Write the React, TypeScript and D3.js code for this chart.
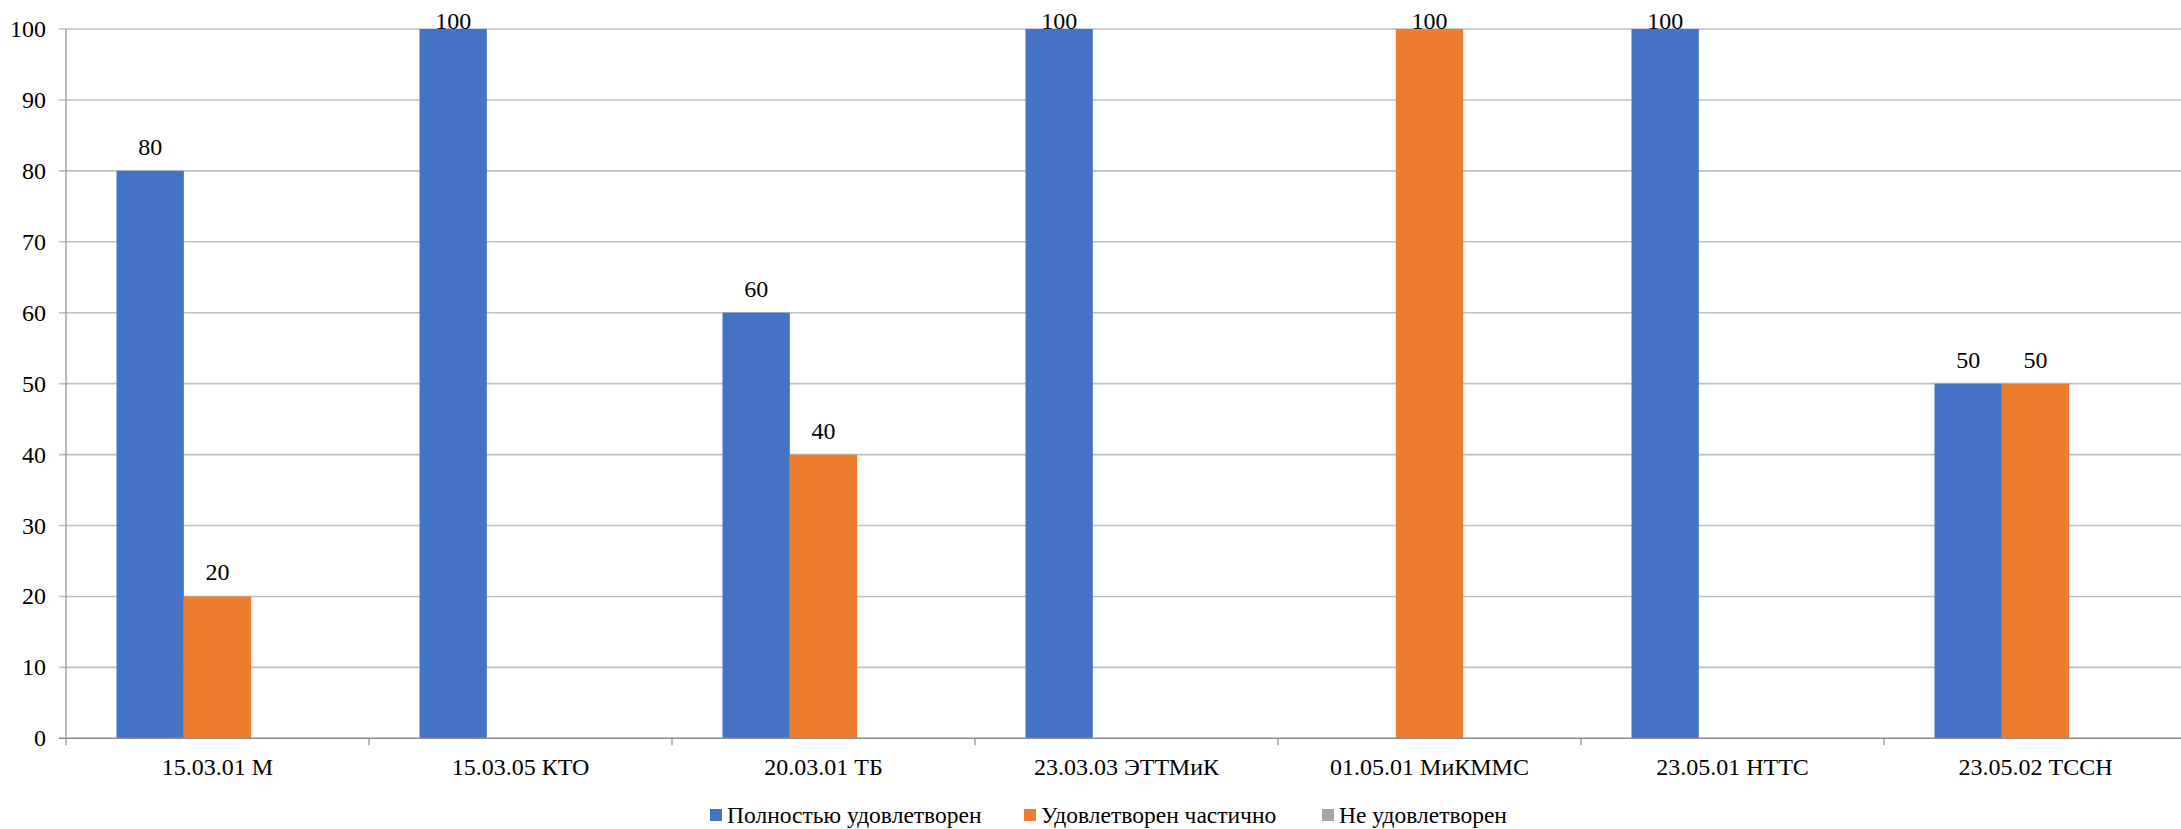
import React from "react";
import * as d3 from "d3";

const categories = [
  "15.03.01 М",
  "15.03.05 КТО",
  "20.03.01 ТБ",
  "23.03.03 ЭТТМиК",
  "01.05.01 МиКММС",
  "23.05.01 НТТС",
  "23.05.02 ТССН",
];
const seriesNames = ["Полностью удовлетворен", "Удовлетворен частично", "Не удовлетворен"];
const fullySatisfied = [80, 100, 60, 100, 0, 100, 50];
const partlySatisfied = [20, 0, 40, 0, 100, 0, 50];
const notSatisfied = [0, 0, 0, 0, 0, 0, 0];
const yTicks = [0, 10, 20, 30, 40, 50, 60, 70, 80, 90, 100];
const colors = ["#4472C4", "#ED7D31", "#A5A5A5"];

const W = 2181;
const H = 829;
const FONT = "Liberation Serif";
const FS = 24;

const left = 66;
const top = 29;
const bottom = 738.3;
const catW = 303;
const right = left + catW * categories.length;
const legendX = [710, 1024, 1322];

export default function App() {
  const x0 = d3.scaleBand<string>().domain(categories).range([left, right]).paddingInner(0).paddingOuter(0);
  const bw = x0.bandwidth();
  const x1 = d3.scaleBand<string>().domain(seriesNames).range([bw / 6, (bw * 5) / 6]).padding(0);
  const y = d3.scaleLinear().domain([0, 100]).range([bottom, top]);
  const values = [fullySatisfied, partlySatisfied, notSatisfied];

  return (
    <svg width={W} height={H} style={{ position: "absolute", left: 0, top: 0, background: "#fff" }}>
      {yTicks
        .filter((t) => t !== 0)
        .map((t) => (
          <line key={"g" + t} x1={left - 7} x2={right} y1={y(t)} y2={y(t)} stroke="#bfbfbf" strokeWidth={1.6} />
        ))}
      {yTicks.map((t) => (
        <text key={"yt" + t} x={left - 20} y={y(t) + 8} textAnchor="end" fontSize={FS} fontFamily={FONT}>
          {String(t)}
        </text>
      ))}
      {seriesNames.map((s, si) =>
        categories.map((c, i) => {
          const v = values[si][i];
          return (
            <rect
              key={s + c}
              x={(x0(c) as number) + (x1(s) as number)}
              width={x1.bandwidth()}
              y={y(v)}
              height={y(0) - y(v)}
              fill={colors[si]}
            />
          );
        })
      )}
      {seriesNames.map((s, si) =>
        categories.map((c, i) => {
          const v = values[si][i];
          if (v <= 0) return null;
          return (
            <text
              key={"l" + s + c}
              x={(x0(c) as number) + (x1(s) as number) + x1.bandwidth() / 2}
              y={Math.max(y(v) - 16, top)}
              textAnchor="middle"
              fontSize={FS}
              fontFamily={FONT}
            >
              {String(v)}
            </text>
          );
        })
      )}
      <line x1={left} x2={left} y1={top} y2={bottom + 7} stroke="#8c8c8c" strokeWidth={1.2} />
      <line x1={left - 7} x2={right} y1={bottom} y2={bottom} stroke="#8c8c8c" strokeWidth={1.6} />
      {categories.map((c) => (
        <line
          key={"xt" + c}
          x1={(x0(c) as number) + bw}
          x2={(x0(c) as number) + bw}
          y1={bottom}
          y2={bottom + 7}
          stroke="#8c8c8c"
          strokeWidth={1.2}
        />
      ))}
      {categories.map((c) => (
        <text key={"c" + c} x={(x0(c) as number) + bw / 2} y={775} textAnchor="middle" fontSize={FS} fontFamily={FONT}>
          {c}
        </text>
      ))}
      {seriesNames.map((s, si) => (
        <g key={"leg" + s}>
          <rect x={legendX[si]} y={809} width={12} height={12} fill={colors[si]} />
          <text x={legendX[si] + 17} y={822.7} fontSize={23.5} fontFamily={FONT}>
            {s}
          </text>
        </g>
      ))}
    </svg>
  );
}
